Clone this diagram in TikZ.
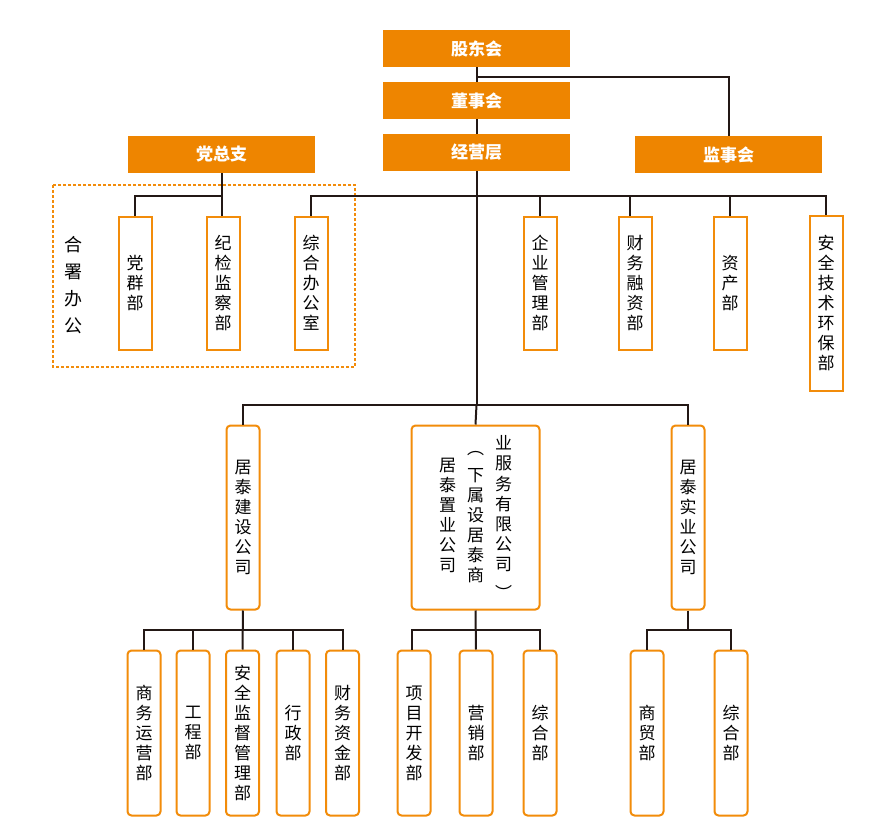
\documentclass[tikz,border=0pt]{standalone}
\usepackage{fontspec}
\setmainfont{Noto Sans CJK SC}
\usepackage{tikz}
\usetikzlibrary{positioning}
\definecolor{orgfill}{HTML}{EE8500}
\definecolor{orgline}{HTML}{F28C0A}
\definecolor{linkc}{HTML}{231815}
\newcommand{\colv}[1]{\begin{tabular}{@{}c@{}}#1\end{tabular}}

\begin{document}
\begin{tikzpicture}[x=1pt,y=-1pt,
    topbox/.style={fill=orgfill, text=white, font=\fontsize{17}{18}\selectfont\bfseries, minimum width=187pt, minimum height=37pt, inner sep=0pt},
    dept/.style={draw=orgline, line width=2pt, fill=white, minimum width=33pt, minimum height=133pt, inner sep=0pt, align=center, font=\fontsize{17}{20}\selectfont},
    unit/.style={dept, rounded corners=4pt, minimum height=165pt},
    link/.style={draw=linkc, line width=2pt}
]
\useasboundingbox (0,0) rectangle (895,835);
\node[topbox] (gdh) at (476.5,48.5) {股东会};
\node[topbox] (dsh) at (476.5,100.5) {董事会};
\node[topbox] (jyc) at (476.5,152.5) {经营层};
\node[topbox] (jsh) at (728.5,154.5) {监事会};
\node[topbox] (dzz) at (221.5,154.5) {党总支};
\draw[orgline, dashed, dash pattern=on 3pt off 2pt, line width=1.2pt] (53,185) rectangle (355,367);
\node[align=center, font=\fontsize{18}{27}\selectfont] (hsbg) at (73,285) {合\\署\\办\\公};
\node[dept] (dqb) at (135,283) {党\\群\\部};
\node[dept] (jjjc) at (223,283) {纪\\检\\监\\察\\部};
\node[dept] (zhbgs) at (311,283) {综\\合\\办\\公\\室};
\node[dept] (qygl) at (540,283) {企\\业\\管\\理\\部};
\node[dept] (cwrz) at (635,283) {财\\务\\融\\资\\部};
\node[dept] (zcb) at (730,283) {资\\产\\部};
\node[dept, minimum height=175pt] (aqjs) at (826,303) {安\\全\\技\\术\\环\\保\\部};
\node[unit, minimum height=184pt] (jsgs) at (243,517.5) {居\\泰\\建\\设\\公\\司};
\node[unit, minimum width=128pt, minimum height=184pt] (zygs) at (475.5,517.5) {\colv{居\\泰\\置\\业\\公\\司}\hspace{11pt}\colv{\raisebox{7pt}{︵}\\下\\属\\设\\居\\泰\\商}\hspace{11pt}\colv{业\\服\\务\\有\\限\\公\\司\\\raisebox{-9pt}{︶}}};
\node[unit, minimum height=184pt] (sygs) at (688,517.5) {居\\泰\\实\\业\\公\\司};
\node[unit] (swyy) at (144,733) {商\\务\\运\\营\\部};
\node[unit] (gcb) at (193,733) {工\\程\\部};
\node[unit] (aqjd) at (242.5,733) {安\\全\\监\\督\\管\\理\\部};
\node[unit] (xzb) at (293,733) {行\\政\\部};
\node[unit] (cwzj) at (342.5,733) {财\\务\\资\\金\\部};
\node[unit] (xmkf) at (414,733) {项\\目\\开\\发\\部};
\node[unit] (yxb) at (476,733) {营\\销\\部};
\node[unit] (zhb) at (540,733) {综\\合\\部};
\node[unit] (smb) at (647,733) {商\\贸\\部};
\node[unit] (zhbb) at (731,733) {综\\合\\部};
\coordinate (gdj) at (476.5,77);
\coordinate (bus) at (476.5,196);
\coordinate (sub) at (476.5,405);
\coordinate (b1) at (243,630);
\coordinate (b2) at (476,630);
\coordinate (b3) at (688,630);
\draw[link] (gdh) -- (dsh);
\draw[link] (dsh) -- (jyc);
\draw[link] (gdj) -| (jsh);
\draw[link] (jyc) -- (sub);
\draw[link] (zhbgs.north) |- (aqjs.north |- bus) -- (aqjs.north);
\foreach \n in {qygl,zcb} \draw[link] (\n.north) -- (\n.north |- bus);
\draw[link] ([xshift=-5pt]cwrz.north) -- ([xshift=-5pt]cwrz.north |- bus);
\draw[link] (dzz.south) -- (dzz.south |- jjjc.north);
\draw[link] (dzz.south |- bus) -| (dqb.north);
\draw[link] (jsgs.north) |- (sub) -| (sygs.north);
\draw[link] (sub) -- (zygs.north);
\draw[link] (jsgs.south) -- (aqjd.north);
\draw[link] (swyy.north) |- (b1) -| (cwzj.north);
\foreach \n in {gcb,xzb} \draw[link] (\n.north) -- (\n.north |- b1);
\draw[link] (zygs.south) -- (yxb.north);
\draw[link] ([xshift=-2pt]xmkf.north) |- (b2) -| (zhb.north);
\draw[link] (sygs.south) -- (b3);
\draw[link] (smb.north) |- (b3) -| (zhbb.north);
\end{tikzpicture}
\end{document}
